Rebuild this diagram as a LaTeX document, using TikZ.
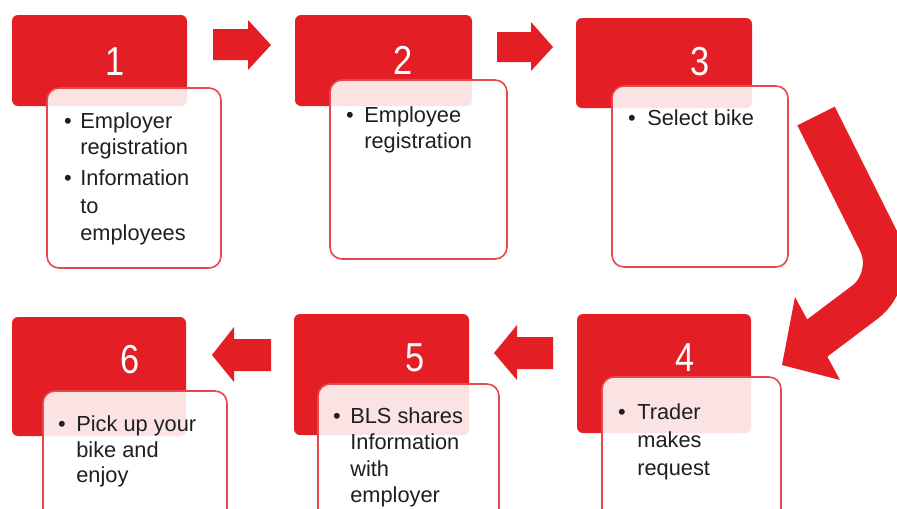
\documentclass[tikz,border=0pt]{standalone}
\usepackage{fontspec}
\setmainfont{Liberation Sans}
\newfontfamily\digitfont[FakeStretch=0.85]{Liberation Sans}
\definecolor{stepred}{HTML}{E31E24}
\definecolor{edgered}{HTML}{E8474B}
\begin{document}
\begin{tikzpicture}[x=0.02cm,y=-0.02cm,
  redbox/.style={fill=stepred, rounded corners=0.12cm},
  notebox/.style={draw=edgered, line width=0.9pt, fill=white, fill opacity=0.88, rounded corners=0.24cm},
  numlabel/.style={text=white, font=\digitfont\fontsize{23}{23}\selectfont, inner sep=0},
  item/.style={anchor=base west, inner sep=0, font=\fontsize{12.4}{15}\selectfont, text=black!88},
  dot/.style={anchor=base, inner sep=0, font=\fontsize{12.4}{15}\selectfont, text=black!88},
  blockarrow/.style={fill=stepred}
]
\useasboundingbox (0,0) rectangle (897,508);
\clip (0,0) rectangle (897,508);

% step 1
\path[redbox] (12,15) rectangle (187,106);
\node[numlabel] (n1) at (115,62) {1};
\path[notebox] (47,88) rectangle (221,268);
\node[dot] (b1a) at (68,128) {•};
\node[item] (t1a) at (80,128) {Employer};
\node[item] (t1b) at (80,154) {registration};
\node[dot] (b1b) at (68,185) {•};
\node[item] (t1c) at (80,185) {Information};
\node[item] (t1d) at (80,213) {to};
\node[item] (t1e) at (80,240) {employees};

% step 2
\path[redbox] (295,15) rectangle (472,106);
\node[numlabel] (n2) at (403,60) {2};
\path[notebox] (330,80) rectangle (507,259);
\node[dot] (b2a) at (350,122) {•};
\node[item] (t2a) at (364,122) {Employee};
\node[item] (t2b) at (364,148) {registration};

% step 3
\path[redbox] (576,18) rectangle (752,108);
\node[numlabel] (n3) at (700,62) {3};
\path[notebox] (612,86) rectangle (788,267);
\node[dot] (b3a) at (632,125) {•};
\node[item] (t3a) at (647,125) {Select bike};

% step 4
\path[redbox] (577,314) rectangle (751,433);
\node[numlabel] (n4) at (685,358) {4};
\path[notebox] (602,377) rectangle (781,540);
\node[dot] (b4a) at (622,419) {•};
\node[item] (t4a) at (637,419) {Trader};
\node[item] (t4b) at (637,447) {makes};
\node[item] (t4c) at (637,475) {request};

% step 5
\path[redbox] (294,314) rectangle (469,435);
\node[numlabel] (n5) at (415,358) {5};
\path[notebox] (318,384) rectangle (499,540);
\node[dot] (b5a) at (337,423) {•};
\node[item] (t5a) at (350,423) {BLS shares};
\node[item] (t5b) at (350,449) {Information};
\node[item] (t5c) at (350,476) {with};
\node[item] (t5d) at (350,502) {employer};

% step 6
\path[redbox] (12,317) rectangle (186,436);
\node[numlabel] (n6) at (130,360) {6};
\path[notebox] (43,391) rectangle (227,540);
\node[dot] (b6a) at (62,431) {•};
\node[item] (t6a) at (76,431) {Pick up your};
\node[item] (t6b) at (76,457) {bike and};
\node[item] (t6c) at (76,482) {enjoy};

% block arrows between the steps
\fill[blockarrow] (213,29) -- (248,29) -- (248,20) -- (271,45) -- (248,70) -- (248,60) -- (213,60) -- cycle;
\fill[blockarrow] (497,32) -- (531,32) -- (531,22) -- (553,47) -- (531,71) -- (531,62) -- (497,62) -- cycle;
\fill[blockarrow] (553,337) -- (517,337) -- (517,325) -- (494,353) -- (517,380) -- (517,369) -- (553,369) -- cycle;
\fill[blockarrow] (271,339) -- (234,339) -- (234,327) -- (212,355) -- (234,382) -- (234,371) -- (271,371) -- cycle;

% bent arrow from step 3 down to step 4
\draw[stepred, line width=23.8pt, rounded corners=0.8cm] (816,116) -- (897,278) -- (812,342);
\fill[blockarrow] (782,365) -- (795,297) -- (840,380) -- cycle;
\end{tikzpicture}
\end{document}
